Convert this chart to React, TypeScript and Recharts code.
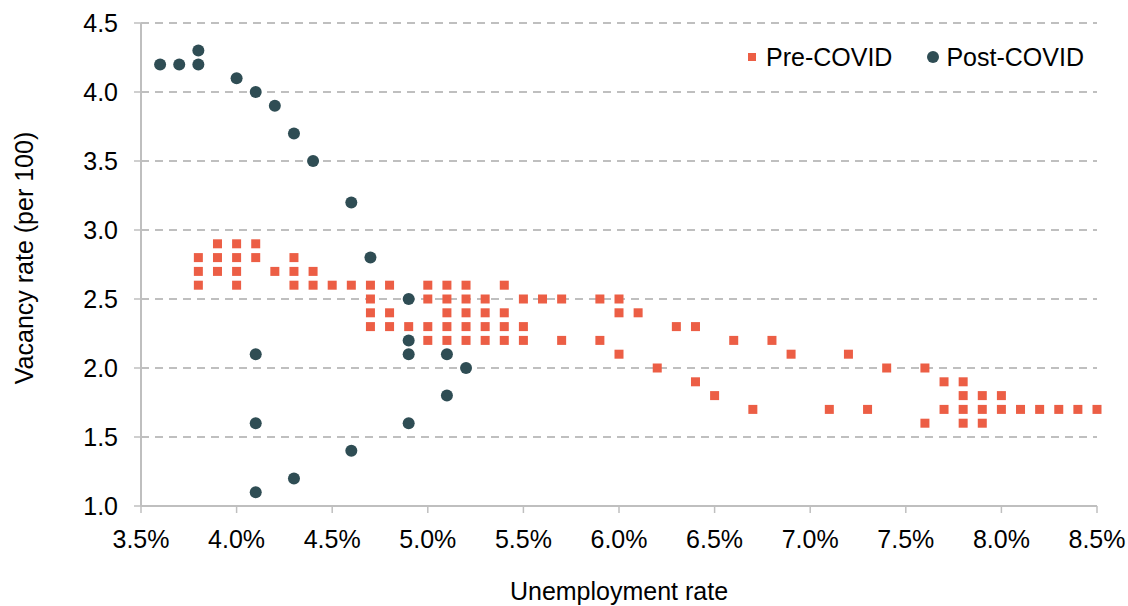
import React from "react";
import {
  ScatterChart,
  Scatter,
  XAxis,
  YAxis,
  CartesianGrid,
  Legend,
} from "recharts";

const FONT = '"Liberation Sans", Arial, Helvetica, sans-serif';
const ORANGE = "#EC5E45";
const TEAL = "#2F4D54";
const GREY = "#BFBFBF";

// Pre-COVID: unemployment rate (%) and vacancy rate (per 100), paired by index
const preUnemployment = [
  3.8, 3.8, 3.8, 3.9, 3.9, 3.9, 4.0, 4.0, 4.0, 4.0, 4.1, 4.1, 4.2, 4.3, 4.3, 4.3,
  4.4, 4.4, 4.5, 4.6, 4.7, 4.7, 4.7, 4.7, 4.8, 4.8, 4.8, 4.9, 5.0, 5.0, 5.0, 5.0,
  5.1, 5.1, 5.1, 5.1, 5.1, 5.2, 5.2, 5.2, 5.2, 5.2, 5.3, 5.3, 5.3, 5.3, 5.4, 5.4,
  5.4, 5.4, 5.5, 5.5, 5.5, 5.6, 5.7, 5.7, 5.9, 5.9, 6.0, 6.0, 6.0, 6.1, 6.2, 6.3,
  6.4, 6.4, 6.5, 6.6, 6.7, 6.8, 6.9, 7.1, 7.2, 7.3, 7.4, 7.6, 7.6, 7.7, 7.7, 7.8,
  7.8, 7.8, 7.8, 7.9, 7.9, 7.9, 8.0, 8.0, 8.1, 8.2, 8.3, 8.4, 8.5,
];
const preVacancy = [
  2.8, 2.7, 2.6, 2.9, 2.8, 2.7, 2.9, 2.8, 2.7, 2.6, 2.9, 2.8, 2.7, 2.8, 2.7, 2.6,
  2.7, 2.6, 2.6, 2.6, 2.6, 2.5, 2.4, 2.3, 2.6, 2.4, 2.3, 2.3, 2.6, 2.5, 2.3, 2.2,
  2.6, 2.5, 2.4, 2.3, 2.2, 2.6, 2.5, 2.4, 2.3, 2.2, 2.5, 2.4, 2.3, 2.2, 2.6, 2.4,
  2.3, 2.2, 2.5, 2.3, 2.2, 2.5, 2.5, 2.2, 2.5, 2.2, 2.5, 2.4, 2.1, 2.4, 2.0, 2.3,
  2.3, 1.9, 1.8, 2.2, 1.7, 2.2, 2.1, 1.7, 2.1, 1.7, 2.0, 2.0, 1.6, 1.9, 1.7, 1.9,
  1.8, 1.7, 1.6, 1.8, 1.7, 1.6, 1.8, 1.7, 1.7, 1.7, 1.7, 1.7, 1.7,
];

// Post-COVID
const postUnemployment = [
  3.6, 3.7, 3.8, 3.8, 4.0, 4.1, 4.2, 4.3, 4.4, 4.6, 4.7, 4.9, 4.9, 4.9, 5.1, 5.2,
  5.1, 4.9, 4.6, 4.3, 4.1, 4.1, 4.1,
];
const postVacancy = [
  4.2, 4.2, 4.2, 4.3, 4.1, 4.0, 3.9, 3.7, 3.5, 3.2, 2.8, 2.5, 2.2, 2.1, 2.1, 2.0,
  1.8, 1.6, 1.4, 1.2, 1.1, 1.6, 2.1,
];

const xTicks = [3.5, 4.0, 4.5, 5.0, 5.5, 6.0, 6.5, 7.0, 7.5, 8.0, 8.5];
const yTicks = [1.0, 1.5, 2.0, 2.5, 3.0, 3.5, 4.0, 4.5];

const preData = preUnemployment.map((x, i) => ({ x, y: preVacancy[i] }));
const postData = postUnemployment.map((x, i) => ({ x, y: postVacancy[i] }));

const renderSquare = (props: any) => (
  <rect x={props.cx - 4.5} y={props.cy - 4.5} width={9} height={9} fill={ORANGE} />
);

const renderCircle = (props: any) => (
  <circle cx={props.cx} cy={props.cy} r={6} fill={TEAL} />
);

const renderLegend = () => (
  <div
    style={{
      display: "flex",
      alignItems: "center",
      fontFamily: FONT,
      fontSize: 25,
      lineHeight: "34px",
      color: "#000",
      whiteSpace: "nowrap",
    }}
  >
    <span style={{ display: "inline-block", width: 8, height: 8, background: ORANGE, marginRight: 10 }} />
    <span>Pre-COVID</span>
    <span
      style={{
        display: "inline-block",
        width: 12,
        height: 12,
        borderRadius: 6,
        background: TEAL,
        marginLeft: 35,
        marginRight: 7,
      }}
    />
    <span>Post-COVID</span>
  </div>
);

const tickStyle = { fontSize: 25, fill: "#000", fontFamily: FONT };

export default function App() {
  return (
    <div style={{ position: "absolute", left: 0, top: 0, background: "#fff" }}>
      <style>{`body { margin: 0; background: #fff; }`}</style>
      <ScatterChart
        width={1128}
        height={606}
        margin={{ top: 23, right: 31, bottom: 0, left: 0 }}
      >
        <CartesianGrid
          horizontal
          vertical={false}
          stroke={GREY}
          strokeWidth={2}
          strokeDasharray="8 6"
        />
        <XAxis
          type="number"
          dataKey="x"
          domain={[3.5, 8.5]}
          ticks={xTicks}
          interval={0}
          tickFormatter={(v: number) => `${v.toFixed(1)}%`}
          tick={tickStyle}
          axisLine={{ stroke: GREY, strokeWidth: 2 }}
          tickLine={{ stroke: GREY, strokeWidth: 1.5 }}
          tickSize={7}
          tickMargin={17}
          height={100}
          label={{
            content: () => (
              <text x={619} y={600} textAnchor="middle" fontSize={25} fontFamily={FONT} fill="#000">
                Unemployment rate
              </text>
            ),
          }}
        />
        <YAxis
          type="number"
          dataKey="y"
          domain={[1, 4.5]}
          ticks={yTicks}
          interval={0}
          tickFormatter={(v: number) => v.toFixed(1)}
          tick={tickStyle}
          axisLine={{ stroke: GREY, strokeWidth: 2 }}
          tickLine={{ stroke: GREY, strokeWidth: 1.5 }}
          tickSize={7}
          tickMargin={16}
          width={141}
          label={{
            content: () => (
              <text
                x={33}
                y={258}
                transform="rotate(-90, 33, 258)"
                textAnchor="middle"
                fontSize={25}
                fontFamily={FONT}
                fill="#000"
              >
                Vacancy rate (per 100)
              </text>
            ),
          }}
        />
        <Legend
          layout="vertical"
          align="center"
          verticalAlign="middle"
          content={renderLegend}
          wrapperStyle={{ top: 40, left: 748, width: 370, height: 34 }}
        />
        <Scatter
          name="Pre-COVID"
          data={preData}
          shape={renderSquare}
          isAnimationActive={false}
        />
        <Scatter
          name="Post-COVID"
          data={postData}
          shape={renderCircle}
          isAnimationActive={false}
        />
      </ScatterChart>
    </div>
  );
}
